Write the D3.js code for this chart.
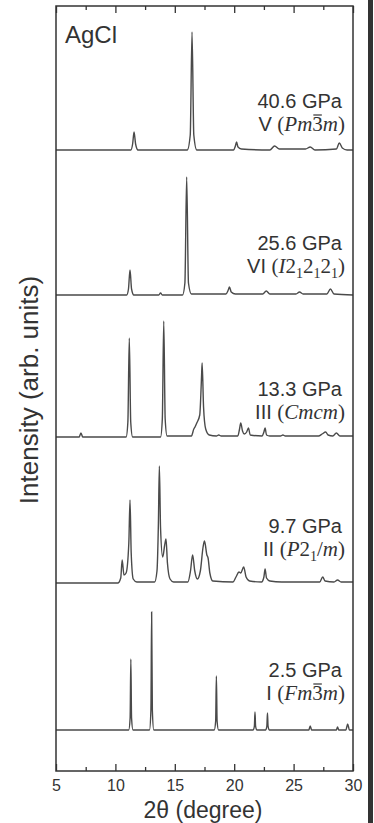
<html>
<head>
<script src="https://d3js.org/d3.v7.min.js"></script>
<style>
  body { margin:0; background:#fff; }
  .trace { fill:none; stroke:#4a4a4a; stroke-width:1.4px; }
  .sans { font-family:"Liberation Sans", Arial, sans-serif; fill:#333; }
  .mth { font-family:"Liberation Serif", serif; fill:#333; }
</style>
</head>
<body>
<script>
// pressure labels, top to bottom
var pressures = ["40.6 GPa", "25.6 GPa", "13.3 GPa", "9.7 GPa", "2.5 GPa"];
var phaseNames = ["V", "VI", "III", "II", "I"];
// vertical offset of each pattern (arb. units)
var offsets = [621, 476, 334, 188, 41];

// traced patterns: [2theta, intensity]
var p40 = [[5,0],[11.3,0],[11.45,6],[11.57,18],[11.7,6],[11.9,0],
  [16.05,0],[16.3,15],[16.45,118],[16.6,15],[16.85,0],
  [19.95,0],[20.1,4],[20.2,8],[20.32,3],[20.6,1],
  [23.0,0],[23.4,4],[23.8,1],[26.0,1],[26.4,3],[26.8,0],
  [28.6,1],[28.85,7],[29.1,2],[29.5,0],[30,0]];
var p25 = [[5,0],[10.95,0],[11.1,6],[11.23,25],[11.36,6],[11.55,0],
  [13.65,0],[13.8,2],[13.95,0],
  [15.65,0],[15.85,12],[16.0,118],[16.15,12],[16.4,1],
  [19.3,1],[19.5,5],[19.6,8],[19.75,3],[20.1,1],
  [22.4,1],[22.7,4],[23.0,1],[25.2,1],[25.5,3],[25.8,1],
  [27.8,1],[28.1,6],[28.4,1],[30,0]];
var p13 = [[5,0],[6.95,0],[7.1,4],[7.25,0],
  [10.9,0],[11.05,15],[11.17,99],[11.29,15],[11.45,0],
  [13.8,0],[13.95,18],[14.07,116],[14.19,18],[14.35,1],
  [16.4,1],[16.6,8],[16.7,10],[16.85,14],[17.1,22],[17.25,60],[17.3,74],[17.42,30],[17.6,8],[17.9,2],
  [18.5,1],[18.7,2],[18.9,1],
  [20.3,1],[20.45,8],[20.55,14],[20.7,6],[20.85,3],[21.05,5],[21.2,9],[21.35,2],
  [22.35,1],[22.5,5],[22.6,9],[22.72,2],[23,1],[23.9,1],[24.1,2],[24.3,1],
  [27.1,1],[27.4,3],[27.7,5],[27.9,2],[28.3,1],[28.6,4],[28.9,1],[30,1]];
var p9 = [[5,0],[10.2,0],[10.45,5],[10.57,23],[10.72,8],[10.9,10],[11.13,40],[11.23,83],[11.33,30],[11.5,4],[11.8,1],
  [13.3,1],[13.5,12],[13.62,60],[13.7,117],[13.8,55],[13.98,26],[14.15,38],[14.26,44],[14.38,20],[14.6,4],[14.9,1],
  [16.1,1],[16.32,12],[16.5,28],[16.68,12],[16.9,4],[17.15,12],[17.38,36],[17.5,42],[17.7,28],[17.8,25],[17.95,10],[18.2,2],
  [19.9,1],[20.15,6],[20.4,11],[20.55,10],[20.8,16],[21.0,6],[21.3,2],
  [22.3,1],[22.5,6],[22.6,14],[22.72,5],[23.0,2],[24,1],
  [27.2,1],[27.45,6],[27.65,2],[28.4,1],[28.7,3],[29,1],[30,1]];
var p2 = [[5,0],[11.12,0],[11.24,12],[11.3,71],[11.36,12],[11.48,0],
  [12.87,0],[12.99,20],[13.05,118],[13.11,20],[13.23,0],
  [18.32,0],[18.44,9],[18.5,54],[18.56,9],[18.68,0],
  [21.6,0],[21.7,4],[21.75,18],[21.8,4],[21.9,0],
  [22.65,0],[22.75,4],[22.8,17],[22.85,4],[22.95,0],
  [26.28,0],[26.4,4],[26.52,0],[28.6,0],[28.7,3],[28.8,0],
  [29.4,0],[29.55,6],[29.7,0],[30,0]];
var patterns = [p40, p25, p13, p9, p2];

var xLabels = [5, 10, 15, 20, 25, 30];
var xMinor = [7.5, 12.5, 17.5, 22.5, 27.5];

var W = 374, H = 823;
var mL = 56, mR = 353, mT = 6, mB = 771;

var x = d3.scaleLinear().domain([5, 30]).range([mL, mR]);
var y = d3.scaleLinear().domain([0, 765]).range([mB, mT]);

var svg = d3.select("body").append("svg").attr("width", W).attr("height", H);

// dark edge of the neighbouring panel in the scan
svg.append("rect").attr("x", 368).attr("y", 0).attr("width", 5).attr("height", H).attr("fill", "#333");

// patterns
patterns.forEach(function(pts, i){
  var line = d3.line()
    .x(function(d){ return x(d[0]); })
    .y(function(d){ return y(d[1] + offsets[i]); })
    .curve(d3.curveMonotoneX);
  svg.append("path").datum(pts).attr("class", "trace").attr("d", line);
});

// axes (ticks inward)
var gB = svg.append("g").attr("transform", "translate(0," + mB + ")")
  .call(d3.axisBottom(x).tickValues(xLabels).tickSizeInner(-7).tickSizeOuter(0).tickPadding(9));
svg.append("g").attr("transform", "translate(0," + mB + ")")
  .call(d3.axisBottom(x).tickValues(xMinor).tickSizeInner(-4).tickSizeOuter(0).tickFormat(""));
svg.append("g").attr("transform", "translate(0," + mT + ")")
  .call(d3.axisTop(x).tickValues(xLabels).tickSizeInner(-7).tickSizeOuter(0).tickFormat(""));
svg.append("g").attr("transform", "translate(0," + mT + ")")
  .call(d3.axisTop(x).tickValues(xMinor).tickSizeInner(-4).tickSizeOuter(0).tickFormat(""));
svg.selectAll(".domain").remove();
svg.selectAll(".tick line").attr("stroke", "#333").attr("stroke-width", 1.3);
gB.selectAll(".tick text").attr("class", "sans").style("font-size", "16px")
  .attr("font-family", null).attr("fill", "#333");

// frame
svg.append("rect").attr("x", mL).attr("y", mT).attr("width", mR - mL).attr("height", mB - mT)
  .attr("fill", "none").attr("stroke", "#333").attr("stroke-width", 1.5);

// titles
svg.append("text").attr("class", "sans").attr("x", 203).attr("y", 818)
  .attr("text-anchor", "middle").style("font-size", "23px").text("2\u03b8 (degree)");
svg.append("text").attr("class", "sans").attr("transform", "translate(38,390) rotate(-90)")
  .attr("text-anchor", "middle").style("font-size", "26px").text("Intensity (arb. units)");
svg.append("text").attr("class", "sans").attr("x", 65).attr("y", 43)
  .style("font-size", "24px").text("AgCl");

// labels
var labY = [108, 250, 396, 533, 677];
// space group pieces: [text, italic?, subscript?, overbar?]
var groups = [
  [["(",0,0,0],["Pm",1,0,0],["3",0,0,1],["m",1,0,0],[")",0,0,0]],
  [["(",0,0,0],["I",1,0,0],["2",0,0,0],["1",0,1,0],["2",0,0,0],["1",0,1,0],["2",0,0,0],["1",0,1,0],[")",0,0,0]],
  [["(",0,0,0],["Cmcm",1,0,0],[")",0,0,0]],
  [["(",0,0,0],["P",1,0,0],["2",0,0,0],["1",0,1,0],["/",0,0,0],["m",1,0,0],[")",0,0,0]],
  [["(",0,0,0],["Fm",1,0,0],["3",0,0,1],["m",1,0,0],[")",0,0,0]]
];
pressures.forEach(function(p, i){
  svg.append("text").attr("class", "sans").attr("x", 342).attr("y", labY[i])
    .attr("text-anchor", "end").style("font-size", "20px").text(p);
  var yy = labY[i] + 23;
  var t = svg.append("text").attr("class", "sans").attr("x", 345).attr("y", yy)
    .attr("text-anchor", "end").style("font-size", "20px");
  t.append("tspan").text(phaseNames[i] + " ");
  var bars = [], pos = phaseNames[i].length + 1;
  groups[i].forEach(function(g){
    var s = t.append("tspan").attr("class", "mth").style("font-size", g[2] ? "14px" : "21px")
      .style("font-style", g[1] ? "italic" : "normal").text(g[0]);
    if (g[2]) s.attr("baseline-shift", "-5");
    if (g[3]) bars.push(pos);
    pos += g[0].length;
  });
  bars.forEach(function(k){
    var n = t.node();
    var a = n.getStartPositionOfChar(k).x, b = n.getEndPositionOfChar(k).x;
    svg.append("line").attr("x1", a + 1).attr("x2", b - 1).attr("y1", yy - 16).attr("y2", yy - 16)
      .attr("stroke", "#333").attr("stroke-width", 1.2);
  });
});
</script>
</body>
</html>
